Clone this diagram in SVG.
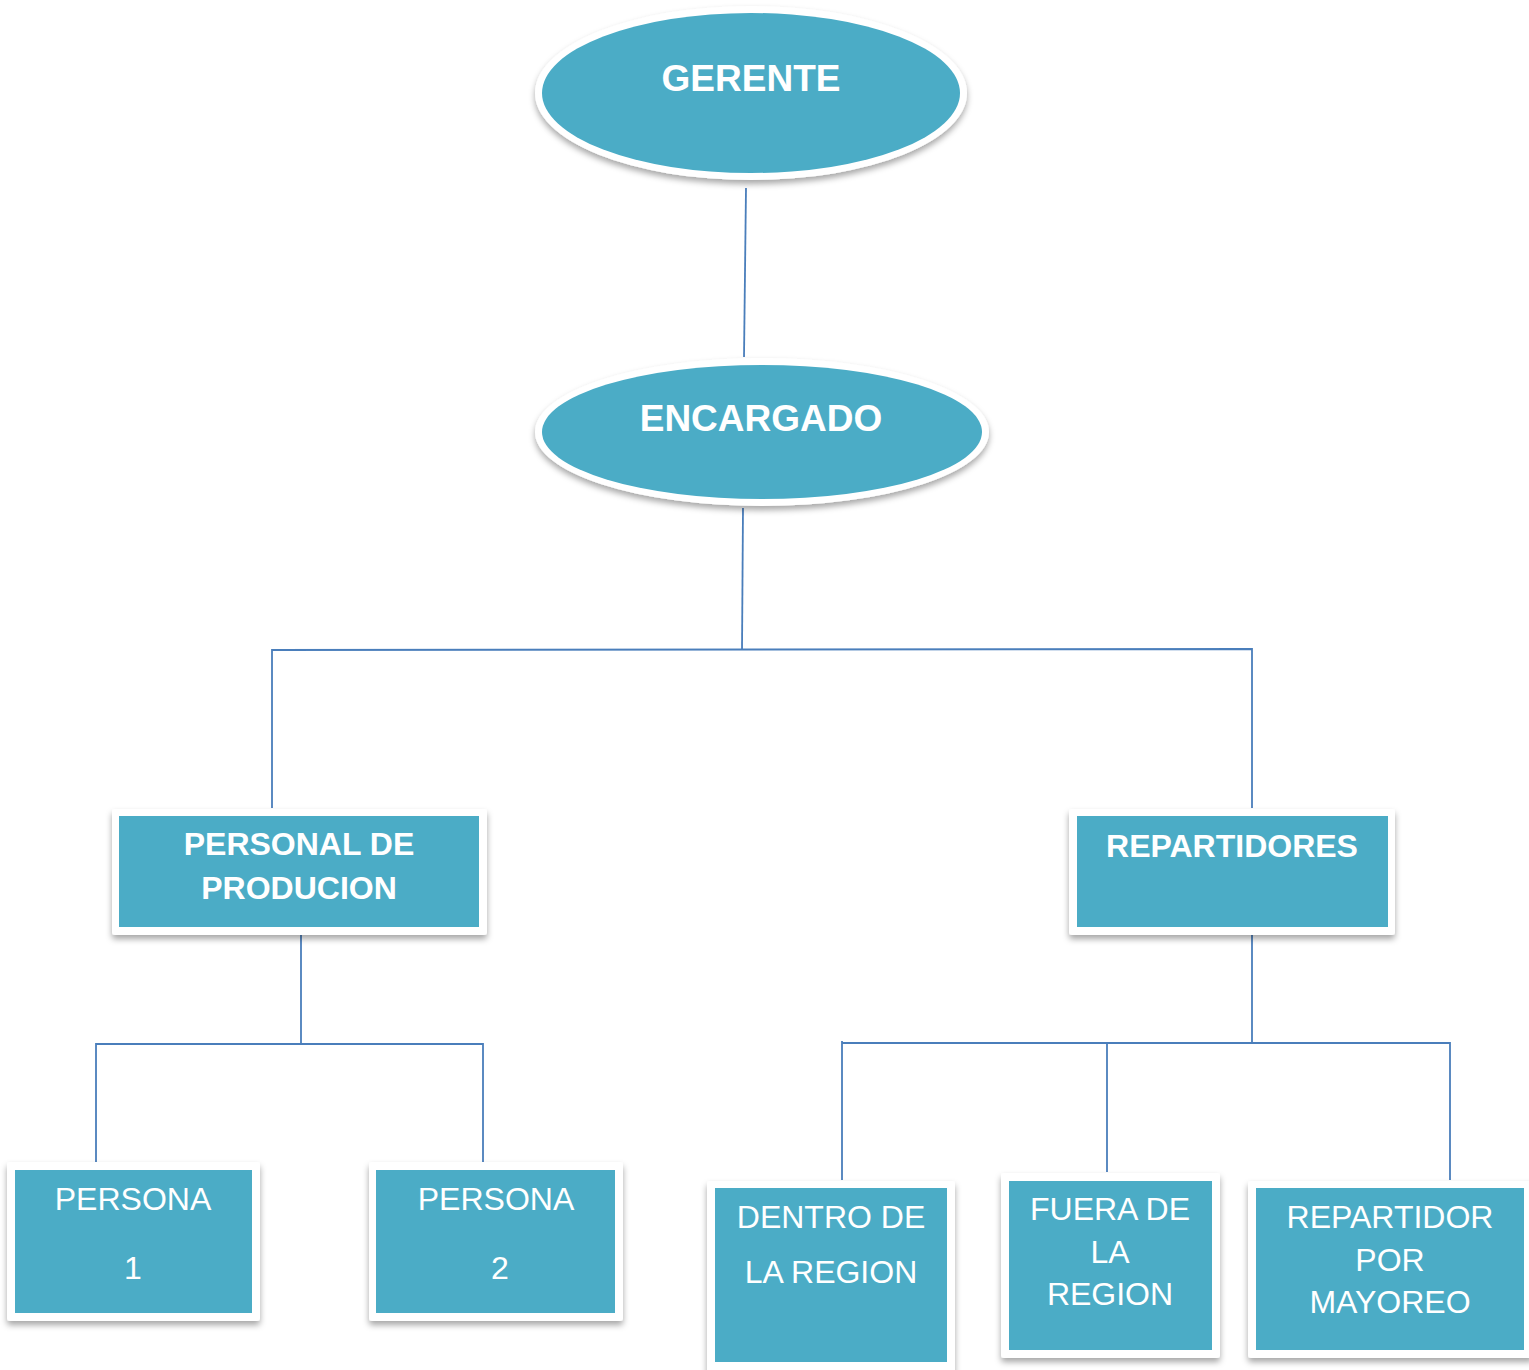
<svg xmlns="http://www.w3.org/2000/svg" width="1529" height="1370" viewBox="0 0 1529 1370">
<defs>
<filter id="sh" x="-10%" y="-10%" width="120%" height="130%">
<feDropShadow dx="0" dy="4" stdDeviation="3" flood-color="#000" flood-opacity="0.35"/>
</filter>
</defs>
<style>
.frame{fill:#ffffff;filter:url(#sh)}
.fill{fill:#4bacc6}
.b{font-family:"Liberation Sans",Arial,sans-serif;font-weight:bold;fill:#ffffff;text-anchor:middle}
.r{font-family:"Liberation Sans",Arial,sans-serif;fill:#ffffff;text-anchor:middle;font-size:32px}
.ln{stroke:#4a7ebb;stroke-width:1.8;fill:none}
</style>
<rect width="1529" height="1370" fill="#ffffff"/>
<g id="connectors">
<line class="ln" x1="746" y1="188" x2="744" y2="357"/>
<line class="ln" x1="743" y1="508" x2="742" y2="650"/>
<polyline class="ln" points="272,808 272,650 1252,649 1252,808"/>
<line class="ln" x1="301" y1="933" x2="301" y2="1044"/>
<polyline class="ln" points="96,1162 96,1044 483,1044 483,1162"/>
<line class="ln" x1="1252" y1="933" x2="1252" y2="1043"/>
<polyline class="ln" points="842,1180 842,1041 842,1043 1450,1043 1450,1180"/>
<line class="ln" x1="1107" y1="1043" x2="1107" y2="1172"/>
</g>
<g id="gerente">
<ellipse class="frame" cx="751" cy="93" rx="216" ry="87"/>
<ellipse class="fill" cx="751" cy="93" rx="209" ry="80"/>
<text class="b" x="751" y="91" font-size="37">GERENTE</text>
</g>
<g id="encargado">
<ellipse class="frame" cx="762" cy="432" rx="227" ry="74"/>
<ellipse class="fill" cx="762" cy="432" rx="220" ry="67"/>
<text class="b" x="761" y="431" font-size="37">ENCARGADO</text>
</g>
<g id="personal">
<rect class="frame" x="112" y="809" width="375" height="126" rx="3"/>
<rect class="fill" x="119" y="816" width="360" height="111"/>
<text class="b" x="299" y="855" font-size="32">PERSONAL DE</text>
<text class="b" x="299" y="899" font-size="32">PRODUCION</text>
</g>
<g id="repartidores">
<rect class="frame" x="1069" y="809" width="326" height="126" rx="3"/>
<rect class="fill" x="1077" y="816" width="311" height="111"/>
<text class="b" x="1232" y="857" font-size="32">REPARTIDORES</text>
</g>
<g id="persona1">
<rect class="frame" x="7" y="1162" width="253" height="159" rx="3"/>
<rect class="fill" x="15" y="1170" width="237" height="143"/>
<text class="r" x="133" y="1210">PERSONA</text>
<text class="r" x="133" y="1279">1</text>
</g>
<g id="persona2">
<rect class="frame" x="369" y="1162" width="254" height="159" rx="3"/>
<rect class="fill" x="376" y="1170" width="239" height="143"/>
<text class="r" x="496" y="1210">PERSONA</text>
<text class="r" x="500" y="1279">2</text>
</g>
<g id="dentro">
<rect class="frame" x="707" y="1181" width="248" height="195" rx="3"/>
<rect class="fill" x="715" y="1188" width="232" height="174"/>
<text class="r" x="831" y="1228">DENTRO DE</text>
<text class="r" x="831" y="1283">LA REGION</text>
</g>
<g id="fuera">
<rect class="frame" x="1001" y="1173" width="219" height="185" rx="3"/>
<rect class="fill" x="1009" y="1181" width="203" height="169"/>
<text class="r" x="1110" y="1220">FUERA DE</text>
<text class="r" x="1110" y="1263">LA</text>
<text class="r" x="1110" y="1305">REGION</text>
</g>
<g id="mayoreo">
<rect class="frame" x="1248" y="1181" width="285" height="177" rx="3"/>
<rect class="fill" x="1256" y="1188" width="268" height="162"/>
<text class="r" x="1390" y="1228">REPARTIDOR</text>
<text class="r" x="1390" y="1271">POR</text>
<text class="r" x="1390" y="1313">MAYOREO</text>
</g>
</svg>
